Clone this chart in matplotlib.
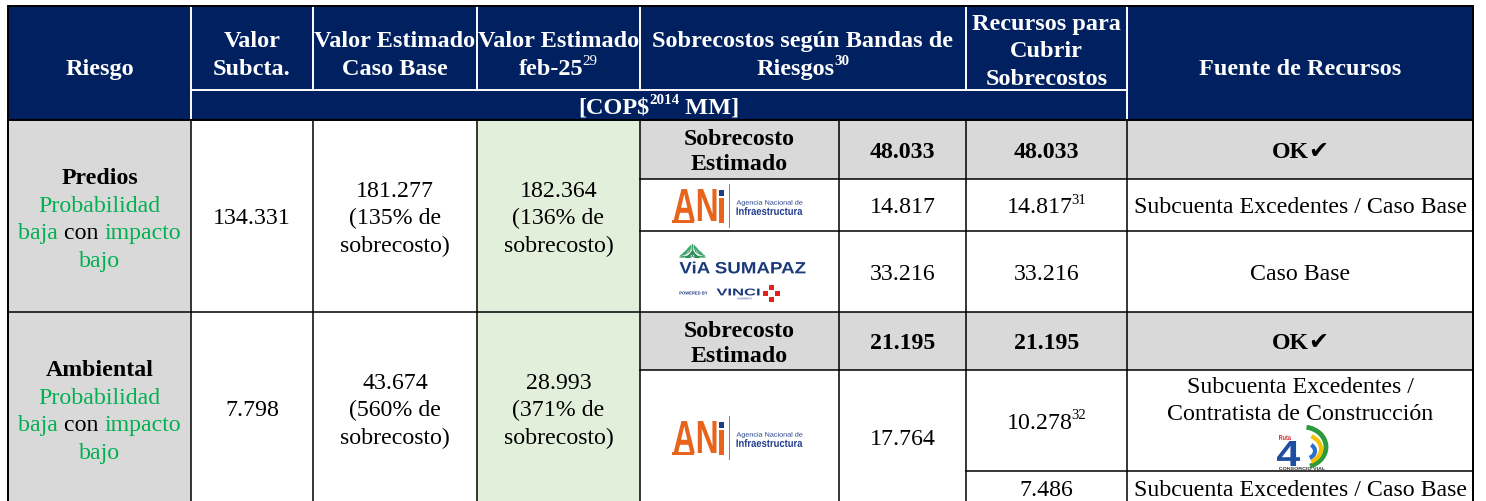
import matplotlib.pyplot as plt
from matplotlib.patches import Rectangle, PathPatch, Arc, Ellipse
from matplotlib.textpath import TextPath
from matplotlib.font_manager import FontProperties
from matplotlib.transforms import Affine2D
import numpy as np

# ---- table content ----
header_titles = [["Riesgo"], ["Valor", "Subcta."], ["Valor Estimado", "Caso Base"],
                 ["Valor Estimado", "feb-25"], ["Sobrecostos según Bandas de", "Riesgos"],
                 ["Recursos para", "Cubrir", "Sobrecostos"], ["Fuente de Recursos"]]
header_notes = [None, None, None, "29", "30", None, None]
unit_text = "[COP$"
unit_year = "2014"
unit_tail = " MM]"

riesgos = ["Predios", "Ambiental"]
valor_subcta = ["134.331", "7.798"]
valor_caso_base = ["181.277", "43.674"]
pct_caso_base = ["135%", "560%"]
valor_feb25 = ["182.364", "28.993"]
pct_feb25 = ["136%", "371%"]
sobrecosto_estimado = ["48.033", "21.195"]
banda_entidad = [["ANI", "VIA"], ["ANI"]]
banda_valor = [["14.817", "33.216"], ["17.764"]]
recursos = [["14.817", "33.216"], ["10.278", "7.486"]]
recursos_nota = [["31", None], ["32", None]]
fuentes = [[["Subcuenta Excedentes / Caso Base"], ["Caso Base"]],
           [["Subcuenta Excedentes /", "Contratista de Construcción"],
            ["Subcuenta Excedentes / Caso Base"]]]

# ---- layout (pixels) ----
W, H = 1486, 502
col_x = [8, 191, 313, 477, 640, 839, 966, 1127, 1473]
head_y = [7, 91, 121]
sec_y = [[121, 180, 232, 313], [313, 371, 505]]
rec_y = [[121, 180, 232, 313], [313, 371, 472, 505]]

NAVY = "#002060"
GRAY = "#D9D9D9"
LGREEN = "#E2EFDA"
GREEN = "#00B050"
SERIF = "Liberation Serif"
FS = 17.2
HFS = 17.5
GAP = 27.5

fig = plt.figure(figsize=(W / 100, H / 100), dpi=100)
ax = fig.add_axes([0, 0, 1, 1])
ax.set_xlim(0, W)
ax.set_ylim(H, 0)
ax.axis("off")
renderer = fig.canvas.get_renderer()
cx = [(a + b) / 2 for a, b in zip(col_x[:-1], col_x[1:])]


def rich_line(xc, yc, pieces, size=FS):
    px = size * 100 / 72
    base = yc + 0.31 * px
    made, total = [], 0
    for txt, o in pieces:
        sup = o.get("sup", False)
        fs = size * 0.62 if sup else size
        y = base - 0.40 * px if sup else base
        t = ax.text(0, y, txt, fontsize=fs, color=o.get("color", "black"),
                    fontweight="bold" if o.get("bold") else "normal",
                    family=o.get("family", SERIF), va="baseline", ha="left")
        w = t.get_window_extent(renderer).width
        pad = -1 if sup else 0
        made.append((t, w, pad))
        total += w + pad
    x = xc - total / 2
    for t, w, pad in made:
        x += pad
        t.set_x(x)
        x += w


def cell(xc, yc, lines, gap=GAP, size=FS):
    n = len(lines)
    for i, line in enumerate(lines):
        rich_line(xc, yc + (i - (n - 1) / 2) * gap, line, size)


def path_text(s, x0, x1, y0, y1, color, weight="bold", family="Liberation Sans"):
    tp = TextPath((0, 0), s, size=10, prop=FontProperties(family=family, weight=weight))
    bb = tp.get_extents()
    tr = (Affine2D().translate(-bb.x0, -bb.y0)
          .scale((x1 - x0) / bb.width, -(y1 - y0) / bb.height).translate(x0, y1))
    ax.add_patch(PathPatch(tr.transform_path(tp), fc=color, ec="none", lw=0))


def rect(x0, x1, y0, y1, color):
    ax.add_patch(Rectangle((x0, y0), x1 - x0, y1 - y0, fc=color, ec="none"))


def hline(y, x0, x1, color="black", lw=1.1):
    ax.plot([x0, x1], [y, y], color=color, lw=lw, solid_capstyle="projecting")


def vline(x, y0, y1, color="black", lw=1.1):
    ax.plot([x, x], [y0, y1], color=color, lw=lw, solid_capstyle="projecting")


def logo_ani(xc, yc):
    x0, y0 = xc - 66, yc - 26
    path_text("AN", x0, x0 + 43, y0 + 10, y0 + 42, "#E8641B")
    rect(x0 - 2, x0 + 20, y0 + 41, y0 + 44, "#E8641B")
    rect(x0 + 45, x0 + 50, y0 + 19, y0 + 44, "#E8641B")
    rect(x0 + 45, x0 + 50, y0 + 11, y0 + 17, "#1F3C88")
    vline(x0 + 55, y0 + 5, y0 + 48, color="#E8641B", lw=0.7)
    path_text("Agencia Nacional de", x0 + 63, x0 + 129, y0 + 21, y0 + 27, "#1F3C88", weight="normal")
    path_text("Infraestructura", x0 + 63, x0 + 129, y0 + 28, y0 + 36, "#1F3C88")


def logo_via(xc, yc):
    x0, y0 = xc - 60, yc - 36
    fx, fy = x0 + 13, y0 + 22
    for n, r, ln, col in [(11, 9, 9, "#3FA66B"), (7, 4, 7, "#2E8A57")]:
        for ang in np.linspace(-85, 85, n):
            a = np.radians(ang)
            ax.add_patch(Ellipse((fx + r * np.sin(a), fy - r * np.cos(a)), 1.8, ln, angle=-ang,
                                 fc=col, ec="none"))
    path_text("ViA SUMAPAZ", x0, x0 + 126, y0 + 26, y0 + 38, "#1B3A7A")
    path_text("POWERED BY", x0, x0 + 28, y0 + 56, y0 + 59, "#1B3A7A")
    path_text("VINCI", x0 + 37, x0 + 80, y0 + 53, y0 + 60, "#1B3A7A")
    path_text("HIGHWAYS", x0 + 58, x0 + 72, y0 + 62, y0 + 64, "#1B3A7A", weight="normal")
    for dx, dy in [(6, 0), (0, 6), (12, 6), (6, 12)]:
        rect(x0 + 83 + dx, x0 + 88 + dx, y0 + 49 + dy, y0 + 54 + dy, "#E2231A")


def logo_ruta(xc, yc):
    ax.add_patch(Arc((xc + 3, yc + 2), 46, 40, theta1=-80, theta2=70, color="#2E9A3E", lw=3.5))
    ax.add_patch(Arc((xc + 4, yc + 4), 34, 28, theta1=-60, theta2=60, color="#F2C200", lw=3))
    ax.add_patch(Arc((xc + 4, yc + 6), 22, 16, theta1=-40, theta2=50, color="#2A6FD0", lw=3))
    path_text("Ruta", xc - 21, xc - 9, yc - 10, yc - 5, "#D62828")
    path_text("4", xc - 23, xc, yc - 4, yc + 21, "#1E4DA1")
    path_text("CONSORCIO VIAL", xc - 21, xc + 25, yc + 22, yc + 25, "#333333")


# ---- header ----
rect(col_x[0], col_x[-1], head_y[0], head_y[2], NAVY)
white = {"color": "white", "bold": True}
head_yc = [67, 53.5, 53.5, 53.5, 53.5, 49.5, 67]
head_xc = [cx[0], cx[1], cx[2], cx[3], (col_x[4] + col_x[6]) / 2, cx[6], cx[7]]
for i, lines in enumerate(header_titles):
    rows = [[(ln, white)] for ln in lines]
    if header_notes[i]:
        rows[-1].append((header_notes[i], {"color": "white", "bold": i == 4, "sup": True}))
    cell(head_xc[i], head_yc[i], rows, size=HFS)
cell((col_x[1] + col_x[7]) / 2, 106,
     [[(unit_text, white), (unit_year, dict(white, sup=True)), (unit_tail, white)]], size=HFS)

for x in [col_x[1], col_x[7]]:
    vline(x, head_y[0], head_y[2], color="white", lw=1.4)
for x in [col_x[2], col_x[3], col_x[4], col_x[6]]:
    vline(x, head_y[0], head_y[1], color="white", lw=1.4)
hline(head_y[1], col_x[1], col_x[7], color="white", lw=1.4)

# ---- body ----
for s in range(len(riesgos)):
    top, bot = sec_y[s][0], sec_y[s][-1]
    yc = (top + bot) / 2
    rect(col_x[0], col_x[1], top, bot, GRAY)
    rect(col_x[3], col_x[4], top, bot, LGREEN)
    rect(col_x[4], col_x[-1], top, sec_y[s][1], GRAY)

    g = {"color": GREEN}
    cell(cx[0], yc + 1, [[(riesgos[s], {"bold": True})], [("Probabilidad", g)],
                         [("baja ", g), ("con ", {}), ("impacto", g)], [("bajo", g)]], gap=27.7)
    cell(cx[1], yc, [[(valor_subcta[s], {})]])
    cell(cx[2], yc, [[(valor_caso_base[s], {})], [("(" + pct_caso_base[s] + " de", {})],
                     [("sobrecosto)", {})]])
    cell(cx[3], yc, [[(valor_feb25[s], {})], [("(" + pct_feb25[s] + " de", {})],
                     [("sobrecosto)", {})]])

    ye = (sec_y[s][0] + sec_y[s][1]) / 2
    b = {"bold": True}
    cell(cx[4], ye, [[("Sobrecosto", b)], [("Estimado", b)]], gap=25)
    cell(cx[5], ye, [[(sobrecosto_estimado[s], b)]])
    cell(cx[6], ye, [[(sobrecosto_estimado[s], b)]])
    cell(cx[7], ye, [[("OK", b), ("✔", {"family": "DejaVu Sans"})]])

    ys = sec_y[s]
    for j, ent in enumerate(banda_entidad[s]):
        yb = (ys[j + 1] + ys[j + 2]) / 2
        if ent == "ANI":
            logo_ani(cx[4], yb)
        else:
            logo_via(cx[4], yb)
        cell(cx[5], yb, [[(banda_valor[s][j], {})]])

    yr = rec_y[s]
    for j, val in enumerate(recursos[s]):
        y0r, y1r = yr[j + 1], yr[j + 2]
        ymid = (y0r + y1r) / 2
        line = [(val, {})]
        if recursos_nota[s][j]:
            line.append((recursos_nota[s][j], {"sup": True}))
        cell(cx[6], ymid, [line])
        flines = fuentes[s][j]
        if len(flines) > 1:
            cell(cx[7], y0r + 28, [[(t, {})] for t in flines], gap=27)
            logo_ruta(cx[7], y0r + 75)
        else:
            cell(cx[7], ymid, [[(flines[0], {})]])

    # grid
    hline(bot, col_x[0], col_x[-1])
    hline(sec_y[s][1], col_x[4], col_x[-1])
    for y in sec_y[s][2:-1]:
        hline(y, col_x[4], col_x[-1])
    for y in rec_y[s][2:-1]:
        if y not in sec_y[s]:
            hline(y, col_x[6], col_x[-1])
    for x in col_x:
        vline(x, top, bot)

hline(head_y[0], col_x[0], col_x[-1], lw=1.4)
hline(head_y[2], col_x[0], col_x[-1], lw=1.4)
vline(col_x[0], head_y[0], H + 5, lw=1.4)
vline(col_x[-1], head_y[0], H + 5, lw=1.4)

plt.savefig("out.png", dpi=100)
